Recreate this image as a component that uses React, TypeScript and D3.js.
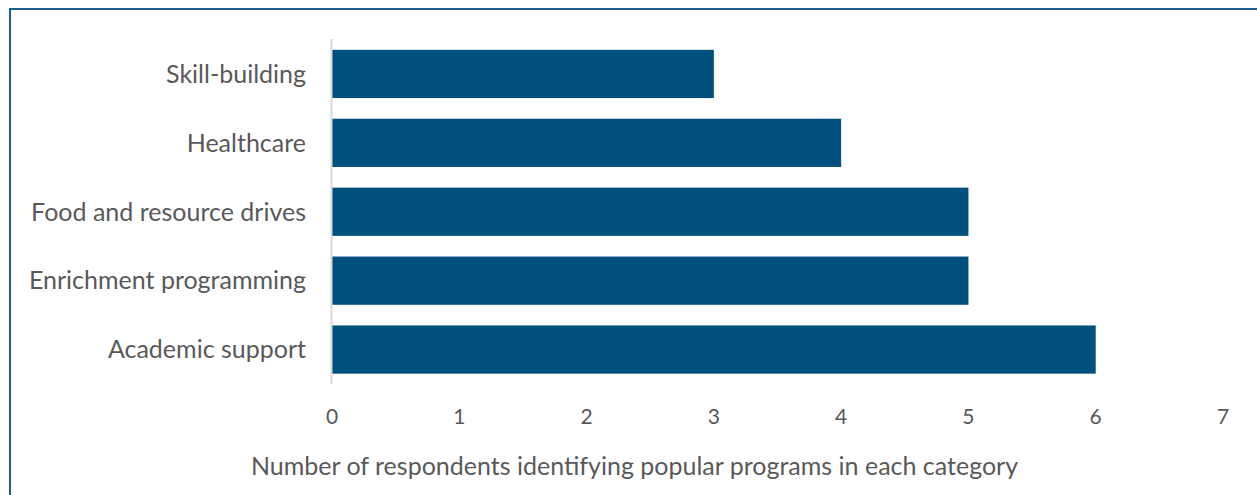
import React from "react";
import * as d3 from "d3";

const categories = ["Skill-building", "Healthcare", "Food and resource drives", "Enrichment programming", "Academic support"];
const values = [3, 4, 5, 5, 6];
const xTicks = [0, 1, 2, 3, 4, 5, 6, 7];
const xTitle = "Number of respondents identifying popular programs in each category";

const W = 1257;
const H = 495;
const FONT = "Lato, Open Sans, sans-serif";

export default function App() {
  const x = d3.scaleLinear().domain([0, 7]).range([332, 1223]);
  const y = d3.scaleBand<string>().domain(categories).range([39.5, 384]).paddingInner(0.3).paddingOuter(0.15);
  return (
    <svg width={W} height={H} style={{ position: "absolute", left: 0, top: 0, background: "#fff" }}>
      <rect x={10} y={9} width={W + 20} height={H + 20} fill="#fff" stroke="#1B5E8C" strokeWidth={2} />
      {categories.map((c, i) => (
        <rect key={c} x={x(0)} y={y(c)!} width={x(values[i]) - x(0)} height={y.bandwidth()} fill="#00507E" />
      ))}
      <line x1={x(0) - 0.5} x2={x(0) - 0.5} y1={39} y2={384} stroke="#D9D9D9" strokeWidth={2} />
      {categories.map((c) => (
        <text key={c} x={306} y={y(c)! + y.bandwidth() / 2} dy="0.35em" textAnchor="end" fontFamily={FONT} fontSize={25} fill="#595959">
          {c}
        </text>
      ))}
      {xTicks.map((t) => (
        <text key={t} x={x(t)} y={417} dy="0.35em" textAnchor="middle" fontFamily={FONT} fontSize={21} fill="#595959">
          {t}
        </text>
      ))}
      <text x={634.5} y={466} dy="0.35em" textAnchor="middle" fontFamily={FONT} fontSize={25} fill="#595959">
        {xTitle}
      </text>
    </svg>
  );
}
